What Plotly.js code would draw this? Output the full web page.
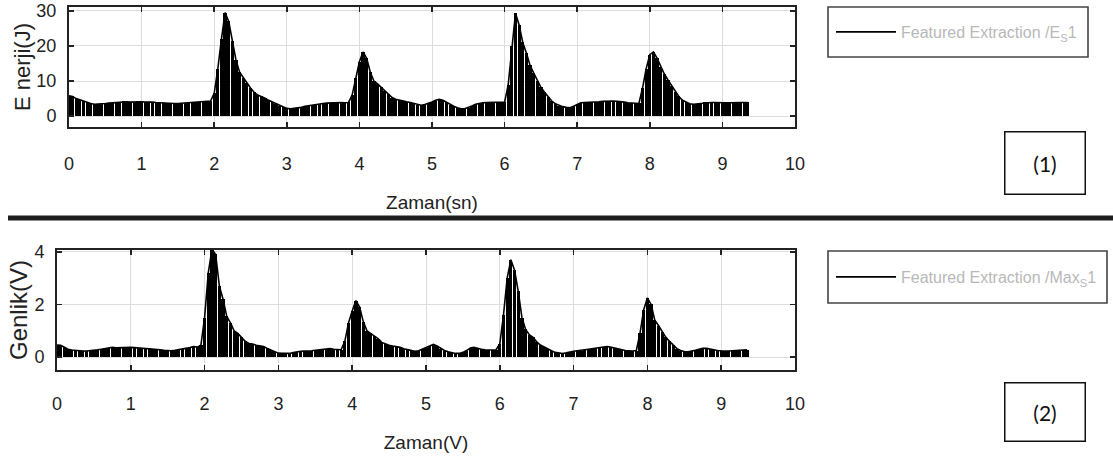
<!DOCTYPE html>
<html>
<head>
<meta charset="utf-8">
<script src="https://cdn.plot.ly/plotly-3.0.1.min.js"></script>
<style>html,body{margin:0;padding:0;background:#fff;overflow:hidden;width:1113px;height:464px;}#chart{display:block;width:1113px;height:464px;}</style>
</head>
<body>
<div id="chart"></div>
<script>
// sampling step of the feature signal (s)
const sampleStep = 0.05;

// Energy feature (J), one value per 0.05 s from 0 to 9.35 s
const energy = [
  5.8,5.6,5.0,4.6,4.2,3.9,3.6,3.4,3.4,3.5,3.6,3.7,3.8,4.0,4.1,4.2,4.1,4.0,4.1,4.2,
  4.1,4.0,4.1,4.0,3.9,3.8,3.7,3.6,3.6,3.6,3.6,3.7,3.7,3.8,3.9,4.0,4.1,4.2,4.3,4.3,
  6.5,13.5,22.0,29.5,27.0,21.5,16.0,12.5,10.8,9.5,8.0,6.8,6.0,5.6,5.1,4.5,4.0,3.5,3.0,2.6,
  2.2,2.1,2.2,2.3,2.5,2.8,3.0,3.2,3.4,3.5,3.6,3.7,3.8,3.9,4.0,3.9,3.8,3.9,6.0,11.0,
  15.5,18.3,16.5,12.5,10.0,9.2,8.2,7.2,6.2,5.3,4.8,4.5,4.3,4.1,3.9,3.6,3.3,3.1,3.3,3.6,
  4.0,4.5,4.8,4.5,3.9,3.3,2.8,2.4,2.1,2.1,2.4,2.9,3.4,3.7,3.8,3.9,3.9,3.9,3.9,3.9,
  4.0,9.0,20.0,29.3,26.0,21.0,18.0,14.5,12.3,10.0,8.2,6.8,5.5,4.3,3.5,3.0,2.7,2.5,2.4,2.8,
  3.4,3.8,3.9,3.9,4.0,4.0,4.1,4.2,4.3,4.3,4.3,4.2,4.2,4.0,3.8,3.7,3.6,3.6,8.0,13.5,
  17.5,18.3,16.5,14.0,12.0,10.3,8.6,7.0,5.6,4.5,3.9,3.5,3.4,3.5,3.7,3.9,3.9,3.9,3.9,3.8,
  3.8,3.8,3.8,3.9,3.9,3.9,3.9,3.9
];

// Maximum amplitude feature (V), same sampling
const amplitude = [
  0.46,0.45,0.38,0.30,0.27,0.25,0.23,0.23,0.23,0.24,0.26,0.28,0.30,0.33,0.36,0.37,0.35,0.36,0.37,0.38,
  0.37,0.36,0.35,0.34,0.33,0.33,0.32,0.30,0.28,0.26,0.24,0.24,0.26,0.28,0.30,0.33,0.36,0.40,0.38,0.45,
  1.5,3.2,4.1,3.9,2.7,2.2,1.55,1.3,1.0,0.9,0.75,0.6,0.52,0.5,0.45,0.42,0.4,0.33,0.27,0.2,
  0.15,0.14,0.14,0.14,0.17,0.2,0.22,0.23,0.23,0.24,0.26,0.28,0.3,0.31,0.32,0.3,0.28,0.28,0.6,1.3,
  1.75,2.15,1.9,1.35,1.0,0.9,0.82,0.7,0.56,0.5,0.45,0.42,0.4,0.37,0.32,0.28,0.24,0.22,0.24,0.3,
  0.36,0.42,0.48,0.42,0.32,0.25,0.2,0.16,0.14,0.14,0.18,0.25,0.35,0.37,0.33,0.3,0.28,0.27,0.27,0.28,
  0.5,1.6,3.0,3.7,3.3,2.5,1.5,1.05,0.85,0.75,0.58,0.46,0.38,0.3,0.24,0.18,0.15,0.14,0.16,0.2,
  0.22,0.24,0.25,0.28,0.3,0.32,0.35,0.37,0.38,0.4,0.38,0.35,0.3,0.27,0.25,0.24,0.23,0.25,0.9,1.8,
  2.25,2.0,1.4,1.2,0.95,0.75,0.6,0.46,0.32,0.25,0.21,0.2,0.22,0.26,0.3,0.33,0.33,0.3,0.27,0.25,
  0.24,0.23,0.23,0.24,0.25,0.25,0.27,0.28
];

const xTickVals = [0,1,2,3,4,5,6,7,8,9,10];
const energyTicks = [0,10,20,30];
const amplitudeTicks = [0,2,4];

const legendLabels = ['Featured Extraction /E<sub>S</sub>1', 'Featured Extraction /Max<sub>S</sub>1'];
const panelLabels = ['(1)', '(2)'];
const xTitles = ['Zaman(sn)', 'Zaman(V)'];
const yTitles = ['E nerji(J)', 'Genlik(V)'];

const time = energy.map((_, i) => +(i * sampleStep).toFixed(2));

const W = 1113, H = 464;
const fx = p => p / W;
const fy = p => 1 - p / H;

const FONT = '"Liberation Sans", Arial, sans-serif';

const traces = [
  {type:'bar', x: time, y: energy, width: 0.044, marker:{color:'#000', line:{width:0}},
   xaxis:'x', yaxis:'y', showlegend:false, hoverinfo:'skip'},
  {type:'scatter', mode:'lines', x: time, y: energy, line:{color:'#000', width:1.6},
   name: legendLabels[0], xaxis:'x', yaxis:'y', legend:'legend'},
  {type:'bar', x: time, y: amplitude, width: 0.044, marker:{color:'#000', line:{width:0}},
   xaxis:'x2', yaxis:'y2', showlegend:false, hoverinfo:'skip'},
  {type:'scatter', mode:'lines', x: time, y: amplitude, line:{color:'#000', width:1.6},
   name: legendLabels[1], xaxis:'x2', yaxis:'y2', legend:'legend2'}
];

function xAxis(domain, anchor, title, labelGap, titleGap) {
  return {
    domain: domain, anchor: anchor, range:[0,10], tickvals: xTickVals,
    ticks:'inside', ticklen:5, tickwidth:1.5, tickcolor:'#222',
    showline:true, linecolor:'#222', linewidth:2, mirror:'ticks',
    showgrid:true, gridcolor:'#dedede', gridwidth:1, zeroline:false,
    ticklabelstandoff: labelGap, ticklabeloverflow:'allow',
    tickfont:{family:FONT, size:18, color:'#222'},
    title:{text:title, font:{family:FONT, size:19, color:'#222'}, standoff:titleGap},
    automargin:false, fixedrange:true
  };
}
function yAxis(domain, anchor, range, ticks, title, titleSize) {
  return {
    domain: domain, anchor: anchor, range: range, tickvals: ticks,
    ticks:'inside', ticklen:5, tickwidth:1.5, tickcolor:'#222',
    showline:true, linecolor:'#222', linewidth:2, mirror:'ticks',
    showgrid:true, gridcolor:'#dedede', gridwidth:1, zeroline:false,
    ticklabelstandoff: 7, ticklabeloverflow:'allow',
    tickfont:{family:FONT, size:18, color:'#222'},
    title:{text:title, font:{family:FONT, size:titleSize, color:'#222'}, standoff:0},
    automargin:false, fixedrange:true
  };
}

const boxFont = {family:'Lato, "Noto Sans", sans-serif', size:21, color:'#111'};
const legendFont = {family:FONT, size:16, color:'#b8b8b8'};

const layout = {
  width: W, height: H, autosize:false,
  margin:{l:0, r:0, t:0, b:0},
  paper_bgcolor:'#fff', plot_bgcolor:'#fff',
  bargap:0,
  showlegend:true,
  xaxis: xAxis([fx(69), fx(795)], 'y', xTitles[0], 19, 23),
  yaxis: yAxis([fy(127), fy(7)], 'x', [-3.1, 31.1], energyTicks, yTitles[0], 22),
  xaxis2: xAxis([fx(57), fx(795)], 'y2', xTitles[1], 16, 23),
  yaxis2: yAxis([fy(370), fy(250)], 'x2', [-0.49, 4.07], amplitudeTicks, yTitles[1], 24),
  legend:{x: fx(831), y: fy(32), xanchor:'left', yanchor:'middle', bgcolor:'rgba(0,0,0,0)',
          borderwidth:0, itemwidth:60, font: legendFont},
  legend2:{x: fx(831), y: fy(277), xanchor:'left', yanchor:'middle', bgcolor:'rgba(0,0,0,0)',
          borderwidth:0, itemwidth:60, font: legendFont},
  shapes:[
    {type:'line', xref:'paper', yref:'paper', x0: fx(8), x1: 1, y0: fy(218), y1: fy(218),
     line:{color:'#1e1e1e', width:5}},
    {type:'rect', xref:'paper', yref:'paper', x0: fx(828), x1: fx(1088), y0: fy(57), y1: fy(7),
     line:{color:'#444', width:1.6}},
    {type:'rect', xref:'paper', yref:'paper', x0: fx(828), x1: fx(1107), y0: fy(303), y1: fy(251),
     line:{color:'#444', width:1.6}}
  ],
  annotations:[
    {xref:'paper', yref:'paper', x: fx(1044.5), y: fy(162.5), xanchor:'center', yanchor:'middle',
     text: panelLabels[0], showarrow:false, width:77, height:59, align:'center', valign:'middle',
     bordercolor:'#111', borderwidth:1.5, borderpad:1, font: boxFont},
    {xref:'paper', yref:'paper', x: fx(1044.5), y: fy(411.5), xanchor:'center', yanchor:'middle',
     text: panelLabels[1], showarrow:false, width:77, height:55, align:'center', valign:'middle',
     bordercolor:'#111', borderwidth:1.5, borderpad:1, font: boxFont}
  ]
};

Plotly.newPlot('chart', traces, layout, {staticPlot:true, displayModeBar:false});
</script>
</body>
</html>
